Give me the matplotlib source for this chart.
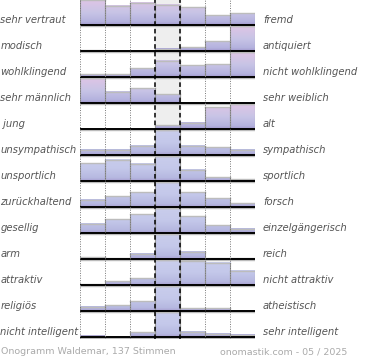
import numpy as np
import matplotlib
matplotlib.use("Agg")
import matplotlib.pyplot as plt
from matplotlib.colors import LinearSegmentedColormap
from matplotlib.transforms import blended_transform_factory

# Semantic differential: left adjective, right adjective, vote shares per bin
left_labels = ['sehr vertraut', 'modisch', 'wohlklingend', 'sehr männlich', ' jung',
               'unsympathisch', 'unsportlich', 'zurückhaltend', 'gesellig', 'arm',
               'attraktiv', 'religiös', 'nicht intelligent']
right_labels = ['fremd', 'antiquiert', 'nicht wohlklingend', 'sehr weiblich', 'alt',
                'sympathisch', 'sportlich', 'forsch', 'einzelgängerisch', 'reich',
                'nicht attraktiv', 'atheistisch', 'sehr intelligent']

vertraut = [1.00, 0.77, 0.89, 0.82, 0.72, 0.40, 0.47]
modisch = [0.03, 0.00, 0.00, 0.10, 0.15, 0.40, 1.00]
klang = [0.12, 0.12, 0.35, 0.65, 0.48, 0.52, 1.00]
geschlecht = [1.00, 0.46, 0.60, 0.35, 0.00, 0.00, 0.00]
alter = [0.00, 0.00, 0.00, 0.16, 0.26, 0.87, 1.00]
sympathie = [0.22, 0.22, 0.37, 1.00, 0.37, 0.31, 0.22]
sport = [0.72, 0.86, 0.69, 1.00, 0.46, 0.16, 0.08]
forsch = [0.30, 0.44, 0.60, 1.00, 0.60, 0.35, 0.15]
gesellig = [0.38, 0.56, 0.76, 1.00, 0.68, 0.31, 0.18]
reich = [0.07, 0.04, 0.22, 1.00, 0.30, 0.04, 0.04]
attraktiv = [0.04, 0.16, 0.27, 1.00, 0.96, 0.89, 0.57]
religion = [0.18, 0.23, 0.40, 1.00, 0.12, 0.12, 0.00]
intelligenz = [0.05, 0.00, 0.19, 1.00, 0.22, 0.14, 0.10]

rows = [vertraut, modisch, klang, geschlecht, alter, sympathie, sport,
        forsch, gesellig, reich, attraktiv, religion, intelligenz]
n_pink = 5  # first rows use the pinkish gradient

footer_left = 'Onogramm Waldemar, 137 Stimmen'
footer_right = 'onomastik.com - 05 / 2025'

pink = LinearSegmentedColormap.from_list(
    'pink', [(0, '#a096cc'), (0.12, '#b4b2de'), (0.5, '#c8c4e6'), (1, '#dec5e5')])
blue = LinearSegmentedColormap.from_list(
    'blue', [(0, '#a79ed0'), (0.12, '#b6b8e0'), (0.5, '#c4c8ea'), (1, '#c9cdec')])

W, H = 370, 360
fig = plt.figure(figsize=(W / 100, H / 100), dpi=100)
ax = fig.add_axes([80 / W, 21 / H, 175 / W, 339 / H])
lab = blended_transform_factory(fig.transFigure, ax.transData)

bar_h = 0.96

# middle column background
ax.axvspan(3, 4, color='#eeeeee', zorder=0)

for i, vals in enumerate(rows):
    base = i + 1
    cmap = pink if i < n_pink else blue
    for j, v in enumerate(vals):
        if v <= 0:
            continue
        top = base - v * bar_h
        grad = np.linspace(0, v, 60)[:, None]
        ax.imshow(grad, extent=(j, j + 1, base, top), origin='lower', cmap=cmap,
                  vmin=0, vmax=1, aspect='auto', interpolation='bilinear', zorder=2)
        ax.plot([j, j + 1], [top, top], color='#bcbcbc', lw=1.0, zorder=3)
        ax.plot([j, j], [base, top], color='#999999', lw=0.8, zorder=3)
        ax.plot([j + 1, j + 1], [base, top], color='#999999', lw=0.8, zorder=3)
    # baseline with a soft shadow
    ax.plot([0, 7], [base + 0.04, base + 0.04], color='#bbbbbb', lw=1.0, zorder=4)
    ax.plot([0, 7], [base, base], color='black', lw=1.4, zorder=5)
    ax.text(0.5 / W, base - 0.2, left_labels[i], transform=lab, fontsize=7.2,
            style='italic', color='#555555', ha='left', va='center')
    ax.text(263 / W, base - 0.2, right_labels[i], transform=lab, fontsize=7.2,
            style='italic', color='#555555', ha='left', va='center')

for x in [0, 1, 2, 5, 6, 7]:
    ax.axvline(x, color='#777777', lw=0.7, ls=(0, (1, 1.5)), zorder=6)
for x in [3, 4]:
    ax.axvline(x, color='black', lw=1.1, ls=(0, (3, 2)), zorder=6)

ax.set_xlim(0, 7)
ax.set_ylim(1 + (339 - 25) / 26, 1 - 25 / 26)
ax.axis('off')

fig.text(1 / W, 1 - 352 / H, footer_left, fontsize=6.8, color='#aaaaaa',
         ha='left', va='center')
fig.text(347 / W, 1 - 352 / H, footer_right, fontsize=6.8, color='#aaaaaa',
         ha='right', va='center')

fig.savefig('out.png', dpi=100)
